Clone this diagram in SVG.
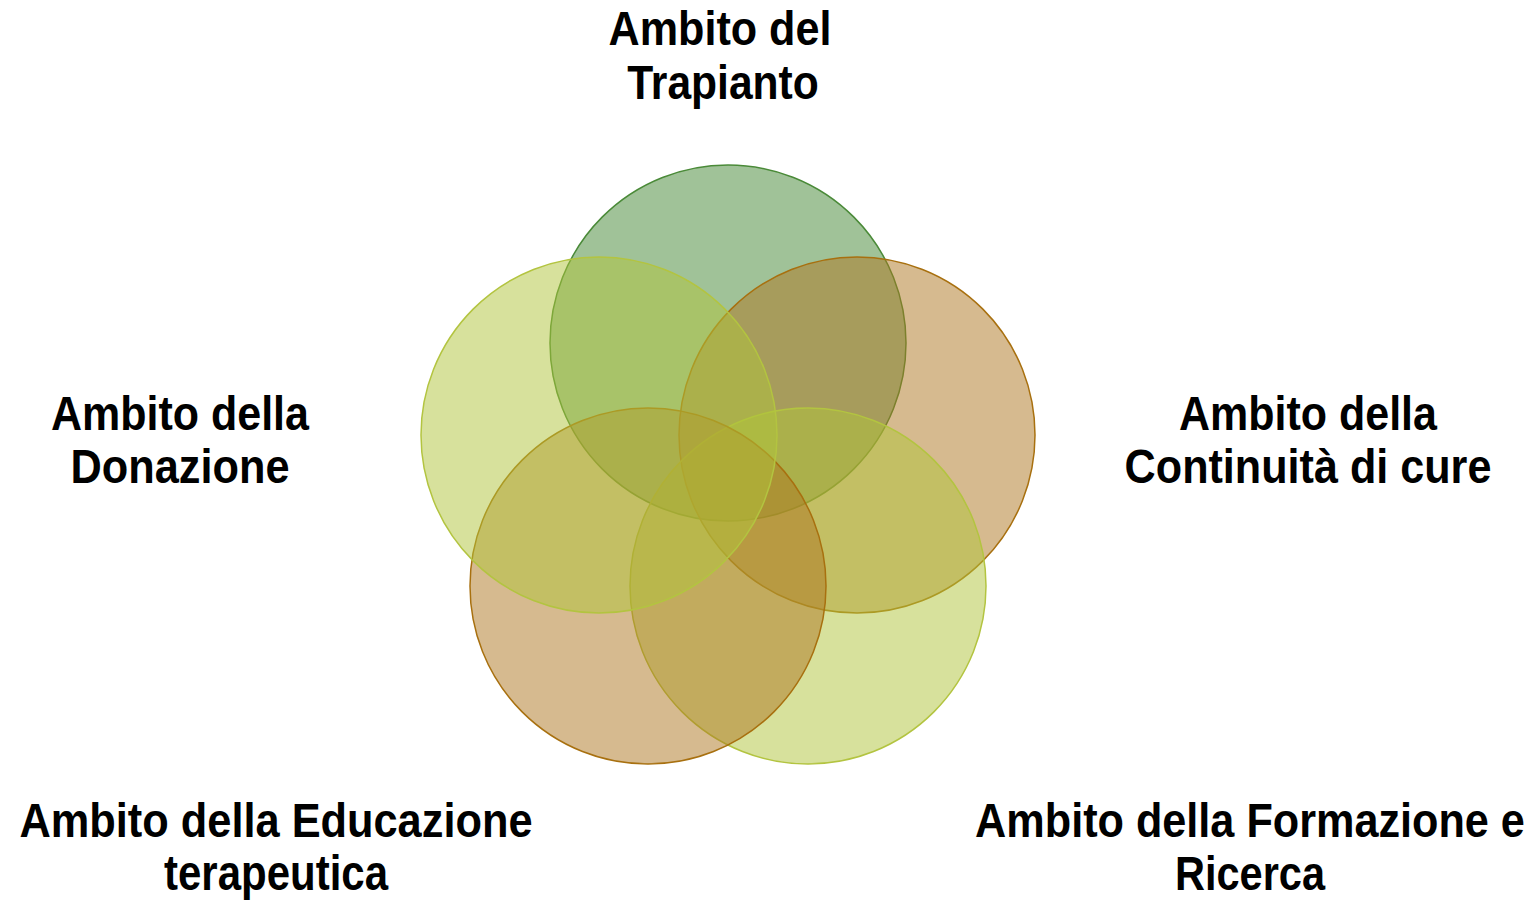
<svg xmlns="http://www.w3.org/2000/svg" width="1533" height="900" viewBox="0 0 1533 900">
<style>
.c{fill-opacity:0.5;stroke-width:1.5}
.g{fill:#418632;stroke:#4a8a38}
.y{fill:#b0c33a;stroke:#b3c440}
.o{fill:#ad7620;stroke:#a8700f}
.t{font-family:"Liberation Sans",Arial,sans-serif;font-weight:bold;font-size:49px;fill:#000;text-anchor:middle}
</style>
<rect width="1533" height="900" fill="#fff"/>
<g id="circles">
<circle id="c-trapianto" class="c g" cx="728" cy="343" r="178"/>
<circle id="c-continuita" class="c o" cx="857" cy="435" r="178"/>
<circle id="c-formazione" class="c y" cx="808" cy="586" r="178"/>
<circle id="c-educazione" class="c o" cx="648" cy="586" r="178"/>
<circle id="c-donazione" class="c y" cx="599" cy="435" r="178"/>
</g>
<g id="labels">
<g id="l-trapianto">
<text class="t" transform="translate(720,45) scale(0.881,1)">Ambito del</text>
<text class="t" transform="translate(723,99) scale(0.869,1)">Trapianto</text>
</g>
<g id="l-donazione">
<text class="t" transform="translate(180,430) scale(0.877,1)">Ambito della</text>
<text class="t" transform="translate(180,483) scale(0.884,1)">Donazione</text>
</g>
<g id="l-continuita">
<text class="t" transform="translate(1308,430) scale(0.877,1)">Ambito della</text>
<text class="t" transform="translate(1308,483) scale(0.881,1)">Continuità di cure</text>
</g>
<g id="l-educazione">
<text class="t" transform="translate(276,837) scale(0.885,1)">Ambito della Educazione</text>
<text class="t" transform="translate(276,890) scale(0.857,1)">terapeutica</text>
</g>
<g id="l-formazione">
<text class="t" transform="translate(1250,837) scale(0.882,1)">Ambito della Formazione e</text>
<text class="t" transform="translate(1250,890) scale(0.847,1)">Ricerca</text>
</g>
</g>
</svg>
